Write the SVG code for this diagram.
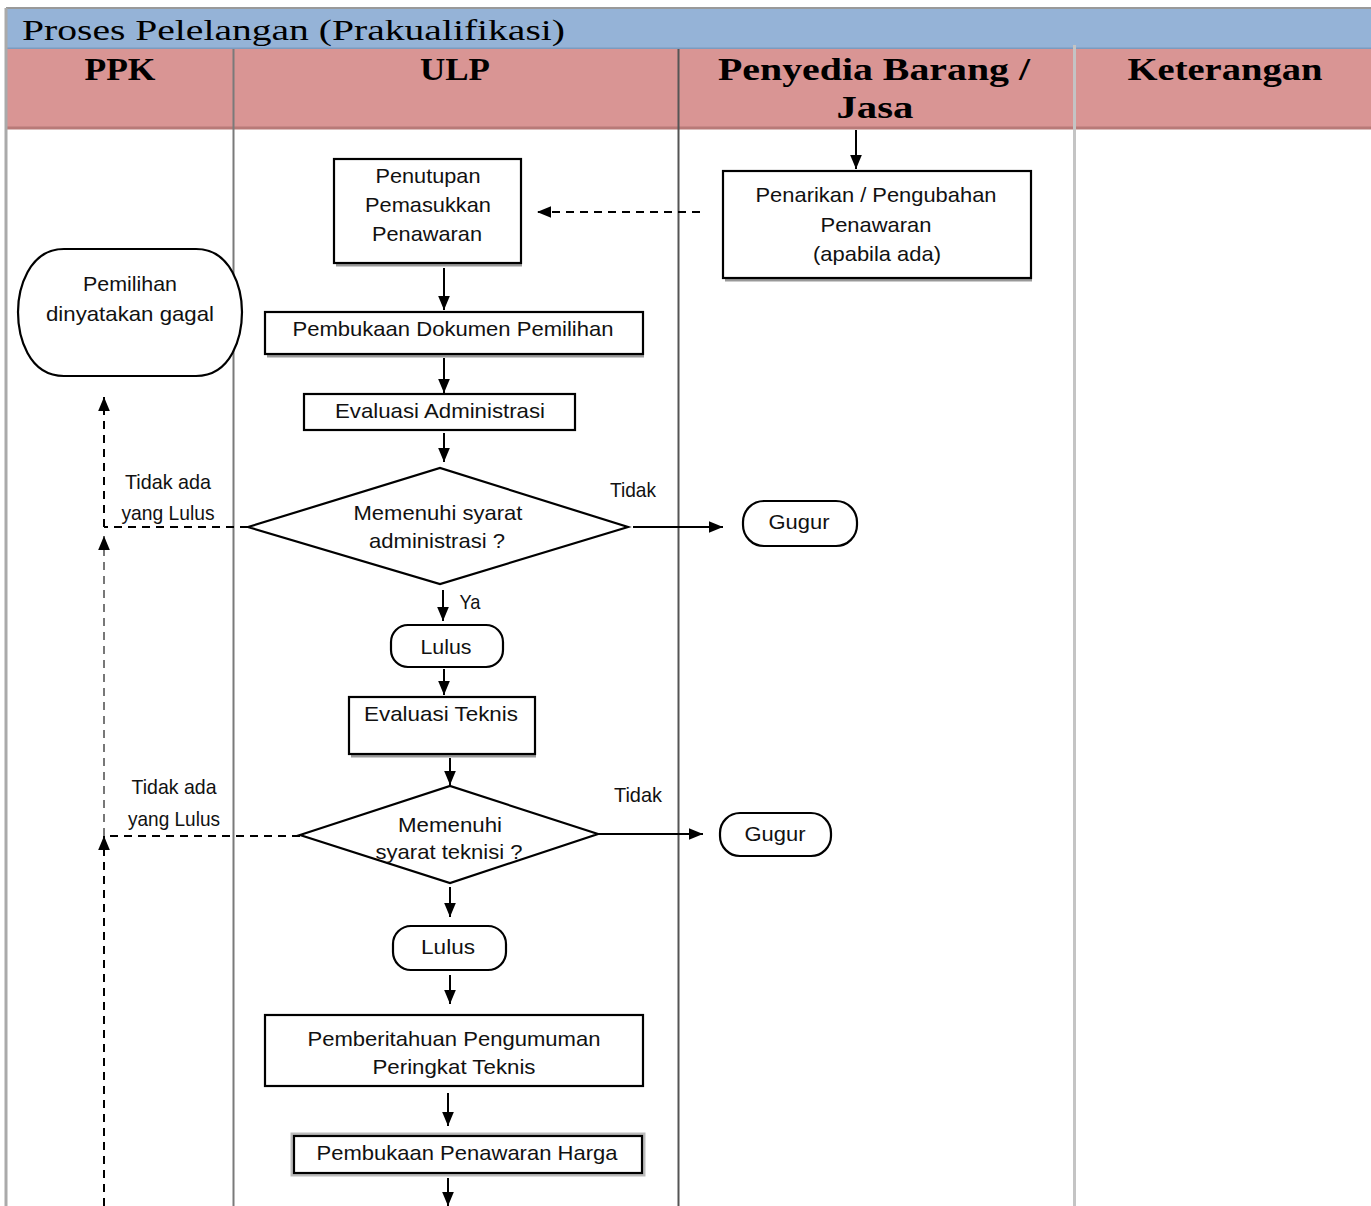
<svg xmlns="http://www.w3.org/2000/svg" width="1371" height="1206" viewBox="0 0 1371 1206">
  <defs>
    <style>
      .title { font-family: "Liberation Serif", "DejaVu Serif", serif; font-size: 30px; fill: #000; }
      .head { font-family: "Liberation Serif", "DejaVu Serif", serif; font-size: 31px; font-weight: bold; fill: #000; text-anchor: middle; }
      .t { font-family: "Liberation Sans", Arial, sans-serif; font-size: 21px; fill: #111; text-anchor: middle; }
      .box { fill: #fff; stroke: #000; stroke-width: 2.2; }
      .shadow { fill: none; stroke: #999; stroke-width: 3; }
      .flow { fill: none; stroke: #000; stroke-width: 2; }
      .dash { fill: none; stroke: #000; stroke-width: 2; stroke-dasharray: 8 6; }
      .dashgray { fill: none; stroke: #777; stroke-width: 2; stroke-dasharray: 8 6; }
    </style>
    <marker id="ah" viewBox="0 0 12 10" refX="12" refY="5" markerWidth="14" markerHeight="12" orient="auto" markerUnits="userSpaceOnUse">
      <path d="M0,0 L12,5 L0,10 z" fill="#000"/>
    </marker>
  </defs>

  <rect width="1371" height="1206" fill="#fff"/>

  <!-- swimlane frame -->
  <g id="lanes">
    <rect x="6" y="9" width="1365" height="40" fill="#95b3d7"/>
    <line x1="6" y1="8" x2="1371" y2="8" stroke="#999" stroke-width="2"/>
    <line x1="6" y1="48.5" x2="1371" y2="48.5" stroke="#7c9bbf" stroke-width="2"/>
    <rect x="6" y="49" width="1365" height="78" fill="#d99594"/>
    <line x1="6" y1="128" x2="1371" y2="128" stroke="#b87a78" stroke-width="3"/>
    <line x1="6" y1="8" x2="6" y2="1206" stroke="#aaa" stroke-width="3"/>
    <line x1="233.5" y1="49" x2="233.5" y2="1206" stroke="#7a7a7a" stroke-width="2"/>
    <line x1="678.5" y1="49" x2="678.5" y2="1206" stroke="#555" stroke-width="2"/>
    <line x1="1074.5" y1="45" x2="1074.5" y2="1206" stroke="#c4c4c4" stroke-width="3"/>
    <text class="title" x="22" y="40" textLength="543" lengthAdjust="spacingAndGlyphs">Proses Pelelangan (Prakualifikasi)</text>
    <text class="head" x="120" y="80" textLength="71" lengthAdjust="spacingAndGlyphs">PPK</text>
    <text class="head" x="455" y="80" textLength="70" lengthAdjust="spacingAndGlyphs">ULP</text>
    <text class="head" x="874" y="80" textLength="312" lengthAdjust="spacingAndGlyphs">Penyedia Barang /</text>
    <text class="head" x="875" y="118" textLength="77" lengthAdjust="spacingAndGlyphs">Jasa</text>
    <text class="head" x="1225" y="80" textLength="195" lengthAdjust="spacingAndGlyphs">Keterangan</text>
  </g>

  <!-- connectors -->
  <g id="connectors">
    <line class="flow" x1="856" y1="130" x2="856" y2="169" marker-end="url(#ah)"/>
    <line class="dash" x1="700" y1="212" x2="537" y2="212" marker-end="url(#ah)"/>
    <line class="flow" x1="444" y1="268" x2="444" y2="310" marker-end="url(#ah)"/>
    <line class="flow" x1="444" y1="358" x2="444" y2="393" marker-end="url(#ah)"/>
    <line class="flow" x1="444" y1="433" x2="444" y2="462" marker-end="url(#ah)"/>
    <line class="flow" x1="633" y1="527" x2="723" y2="527" marker-end="url(#ah)"/>
    <line class="flow" x1="443" y1="590" x2="443" y2="621" marker-end="url(#ah)"/>
    <line class="flow" x1="444" y1="669" x2="444" y2="695" marker-end="url(#ah)"/>
    <line class="flow" x1="450" y1="758" x2="450" y2="785" marker-end="url(#ah)"/>
    <line class="flow" x1="598" y1="834" x2="703" y2="834" marker-end="url(#ah)"/>
    <line class="flow" x1="450" y1="887" x2="450" y2="917" marker-end="url(#ah)"/>
    <line class="flow" x1="450" y1="975" x2="450" y2="1004" marker-end="url(#ah)"/>
    <line class="flow" x1="448" y1="1093" x2="448" y2="1126" marker-end="url(#ah)"/>
    <line class="flow" x1="448" y1="1178" x2="448" y2="1206" marker-end="url(#ah)"/>
    <!-- failure paths back to PPK -->
    <line class="dash" x1="248" y1="527" x2="104" y2="527"/>
    <line class="dash" x1="300" y1="836" x2="104" y2="836"/>
    <line class="dash" x1="104" y1="527" x2="104" y2="397" marker-end="url(#ah)"/>
    <line class="dashgray" x1="104" y1="836" x2="104" y2="536" marker-end="url(#ah)"/>
    <line class="dash" x1="104" y1="1206" x2="104" y2="836" marker-end="url(#ah)"/>
    <text class="t" x="168" y="489" textLength="86" lengthAdjust="spacingAndGlyphs">Tidak ada</text>
    <text class="t" x="168" y="520" textLength="93" lengthAdjust="spacingAndGlyphs">yang Lulus</text>
    <text class="t" x="174" y="794" textLength="85" lengthAdjust="spacingAndGlyphs">Tidak ada</text>
    <text class="t" x="174" y="826" textLength="92" lengthAdjust="spacingAndGlyphs">yang Lulus</text>
    <text class="t" x="633" y="497" textLength="46" lengthAdjust="spacingAndGlyphs">Tidak</text>
    <text class="t" x="638" y="802" textLength="48" lengthAdjust="spacingAndGlyphs">Tidak</text>
    <text class="t" x="470" y="609" textLength="21" lengthAdjust="spacingAndGlyphs">Ya</text>
  </g>

  <g id="penutupan">
    <line class="shadow" x1="336" y1="265" x2="522" y2="265"/>
    <rect class="box" x="334" y="159" width="187" height="104"/>
    <text class="t" x="428" y="183" textLength="105" lengthAdjust="spacingAndGlyphs">Penutupan</text>
    <text class="t" x="428" y="212" textLength="126" lengthAdjust="spacingAndGlyphs">Pemasukkan</text>
    <text class="t" x="427" y="241" textLength="110" lengthAdjust="spacingAndGlyphs">Penawaran</text>
  </g>

  <g id="penarikan">
    <line class="shadow" x1="725" y1="280" x2="1032" y2="280"/>
    <rect class="box" x="723" y="171" width="308" height="107"/>
    <text class="t" x="876" y="202" textLength="241" lengthAdjust="spacingAndGlyphs">Penarikan / Pengubahan</text>
    <text class="t" x="876" y="232" textLength="111" lengthAdjust="spacingAndGlyphs">Penawaran</text>
    <text class="t" x="877" y="261" textLength="128" lengthAdjust="spacingAndGlyphs">(apabila ada)</text>
  </g>

  <g id="pemilihan-gagal">
    <path class="box" d="M64,249 L196,249 C232,249 242,290 242,312 C242,336 232,376 196,376 L64,376 C28,376 18,336 18,312 C18,290 28,249 64,249 Z"/>
    <text class="t" x="130" y="291" textLength="94" lengthAdjust="spacingAndGlyphs">Pemilihan</text>
    <text class="t" x="130" y="321" textLength="168" lengthAdjust="spacingAndGlyphs">dinyatakan gagal</text>
  </g>

  <g id="pembukaan-dokumen">
    <line class="shadow" x1="267" y1="356" x2="644" y2="356"/>
    <rect class="box" x="265" y="312" width="378" height="42"/>
    <text class="t" x="453" y="336" textLength="321" lengthAdjust="spacingAndGlyphs">Pembukaan Dokumen Pemilihan</text>
  </g>

  <g id="evaluasi-administrasi">
    <rect class="box" x="304" y="394" width="271" height="36"/>
    <text class="t" x="440" y="418" textLength="210" lengthAdjust="spacingAndGlyphs">Evaluasi Administrasi</text>
  </g>

  <g id="cek-administrasi">
    <polygon class="box" points="248,527 440,468 628,527 440,584"/>
    <text class="t" x="438" y="520" textLength="169" lengthAdjust="spacingAndGlyphs">Memenuhi syarat</text>
    <text class="t" x="437" y="548" textLength="136" lengthAdjust="spacingAndGlyphs">administrasi ?</text>
  </g>

  <g id="gugur-1">
    <rect class="box" x="743" y="501" width="114" height="45" rx="21" ry="21"/>
    <text class="t" x="799" y="529" textLength="61" lengthAdjust="spacingAndGlyphs">Gugur</text>
  </g>

  <g id="lulus-1">
    <rect class="box" x="391" y="625" width="112" height="42" rx="17" ry="17"/>
    <text class="t" x="446" y="654" textLength="51" lengthAdjust="spacingAndGlyphs">Lulus</text>
  </g>

  <g id="evaluasi-teknis">
    <line class="shadow" x1="351" y1="756" x2="536" y2="756"/>
    <rect class="box" x="349" y="697" width="186" height="57"/>
    <text class="t" x="441" y="721" textLength="154" lengthAdjust="spacingAndGlyphs">Evaluasi Teknis</text>
  </g>

  <g id="cek-teknis">
    <polygon class="box" points="300,835 450,786 598,834 450,883"/>
    <text class="t" x="450" y="832" textLength="104" lengthAdjust="spacingAndGlyphs">Memenuhi</text>
    <text class="t" x="449" y="859" textLength="147" lengthAdjust="spacingAndGlyphs">syarat teknisi ?</text>
  </g>

  <g id="gugur-2">
    <rect class="box" x="720" y="813" width="111" height="43" rx="20" ry="20"/>
    <text class="t" x="775" y="841" textLength="61" lengthAdjust="spacingAndGlyphs">Gugur</text>
  </g>

  <g id="lulus-2">
    <rect class="box" x="393" y="926" width="113" height="44" rx="18" ry="18"/>
    <text class="t" x="448" y="954" textLength="54" lengthAdjust="spacingAndGlyphs">Lulus</text>
  </g>

  <g id="pemberitahuan">
    <rect class="box" x="265" y="1015" width="378" height="71"/>
    <text class="t" x="454" y="1046" textLength="293" lengthAdjust="spacingAndGlyphs">Pemberitahuan Pengumuman</text>
    <text class="t" x="454" y="1074" textLength="163" lengthAdjust="spacingAndGlyphs">Peringkat Teknis</text>
  </g>

  <g id="pembukaan-harga">
    <rect x="292" y="1134" width="352" height="41" fill="none" stroke="#bbb" stroke-width="3"/>
    <rect class="box" x="294" y="1136" width="348" height="37"/>
    <text class="t" x="467" y="1160" textLength="301" lengthAdjust="spacingAndGlyphs">Pembukaan Penawaran Harga</text>
  </g>
</svg>
